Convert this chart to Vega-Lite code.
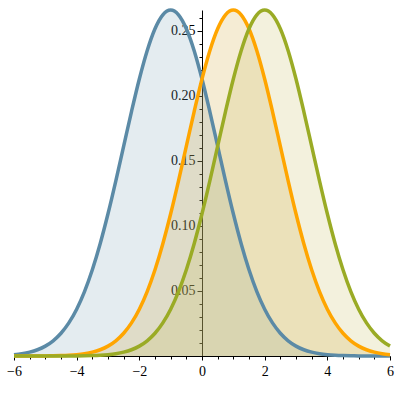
{
  "$schema": "https://vega.github.io/schema/vega-lite/v6.json",
  "width": 376,
  "height": 346,
  "autosize": {"type": "none"},
  "padding": {"left": 14, "top": 10, "right": 10, "bottom": 44},
  "background": "white",
  "config": {
    "view": {"stroke": null},
    "axis": {"grid": false, "labelFont": "Liberation Serif", "labelFontSize": 14, "labelColor": "black", "domainColor": "black", "tickColor": "black", "domainWidth": 1, "tickWidth": 1, "title": null}
  },
  "data": {"values": [
    {"x": -6, "blue": 0.00103, "orange": 0.0, "green": 0.0},
    {"x": -5.75, "blue": 0.00177, "orange": 0.00001, "green": 0.0},
    {"x": -5.5, "blue": 0.00295, "orange": 0.00002, "green": 0.0},
    {"x": -5.25, "blue": 0.0048, "orange": 0.00005, "green": 0.0},
    {"x": -5, "blue": 0.0076, "orange": 0.00009, "green": 0.0},
    {"x": -4.75, "blue": 0.01169, "orange": 0.00017, "green": 0.00001},
    {"x": -4.5, "blue": 0.01748, "orange": 0.00032, "green": 0.00002},
    {"x": -4.25, "blue": 0.02544, "orange": 0.00058, "green": 0.00005},
    {"x": -4, "blue": 0.03599, "orange": 0.00103, "green": 0.00009},
    {"x": -3.75, "blue": 0.04954, "orange": 0.00177, "green": 0.00017},
    {"x": -3.5, "blue": 0.06632, "orange": 0.00295, "green": 0.00032},
    {"x": -3.25, "blue": 0.08635, "orange": 0.0048, "green": 0.00058},
    {"x": -3, "blue": 0.10934, "orange": 0.0076, "green": 0.00103},
    {"x": -2.75, "blue": 0.13467, "orange": 0.01169, "green": 0.00177},
    {"x": -2.5, "blue": 0.16131, "orange": 0.01748, "green": 0.00295},
    {"x": -2.25, "blue": 0.18794, "orange": 0.02544, "green": 0.0048},
    {"x": -2, "blue": 0.21297, "orange": 0.03599, "green": 0.0076},
    {"x": -1.75, "blue": 0.23471, "orange": 0.04954, "green": 0.01169},
    {"x": -1.5, "blue": 0.25159, "orange": 0.06632, "green": 0.01748},
    {"x": -1.25, "blue": 0.26229, "orange": 0.08635, "green": 0.02544},
    {"x": -1, "blue": 0.26596, "orange": 0.10934, "green": 0.03599},
    {"x": -0.75, "blue": 0.26229, "orange": 0.13467, "green": 0.04954},
    {"x": -0.5, "blue": 0.25159, "orange": 0.16131, "green": 0.06632},
    {"x": -0.25, "blue": 0.23471, "orange": 0.18794, "green": 0.08635},
    {"x": 0, "blue": 0.21297, "orange": 0.21297, "green": 0.10934},
    {"x": 0.25, "blue": 0.18794, "orange": 0.23471, "green": 0.13467},
    {"x": 0.5, "blue": 0.16131, "orange": 0.25159, "green": 0.16131},
    {"x": 0.75, "blue": 0.13467, "orange": 0.26229, "green": 0.18794},
    {"x": 1, "blue": 0.10934, "orange": 0.26596, "green": 0.21297},
    {"x": 1.25, "blue": 0.08635, "orange": 0.26229, "green": 0.23471},
    {"x": 1.5, "blue": 0.06632, "orange": 0.25159, "green": 0.25159},
    {"x": 1.75, "blue": 0.04954, "orange": 0.23471, "green": 0.26229},
    {"x": 2, "blue": 0.03599, "orange": 0.21297, "green": 0.26596},
    {"x": 2.25, "blue": 0.02544, "orange": 0.18794, "green": 0.26229},
    {"x": 2.5, "blue": 0.01748, "orange": 0.16131, "green": 0.25159},
    {"x": 2.75, "blue": 0.01169, "orange": 0.13467, "green": 0.23471},
    {"x": 3, "blue": 0.0076, "orange": 0.10934, "green": 0.21297},
    {"x": 3.25, "blue": 0.0048, "orange": 0.08635, "green": 0.18794},
    {"x": 3.5, "blue": 0.00295, "orange": 0.06632, "green": 0.16131},
    {"x": 3.75, "blue": 0.00177, "orange": 0.04954, "green": 0.13467},
    {"x": 4, "blue": 0.00103, "orange": 0.03599, "green": 0.10934},
    {"x": 4.25, "blue": 0.00058, "orange": 0.02544, "green": 0.08635},
    {"x": 4.5, "blue": 0.00032, "orange": 0.01748, "green": 0.06632},
    {"x": 4.75, "blue": 0.00017, "orange": 0.01169, "green": 0.04954},
    {"x": 5, "blue": 0.00009, "orange": 0.0076, "green": 0.03599},
    {"x": 5.25, "blue": 0.00005, "orange": 0.0048, "green": 0.02544},
    {"x": 5.5, "blue": 0.00002, "orange": 0.00295, "green": 0.01748},
    {"x": 5.75, "blue": 0.00001, "orange": 0.00177, "green": 0.01169},
    {"x": 6, "blue": 0.0, "orange": 0.00103, "green": 0.0076}
  ]},
  "transform": [{"fold": ["blue", "orange", "green"], "as": ["s", "y"]}],
  "layer": [
    {
      "mark": {"type": "area", "interpolate": "monotone", "fillOpacity": 0.2},
      "encoding": {
        "x": {"field": "x", "type": "quantitative", "scale": {"domain": [-6, 6], "nice": false},
          "axis": {"orient": "bottom", "values": [-6, -4, -2, 0, 2, 4, 6], "tickSize": 4, "labelPadding": 4, "labelFlush": false}},
        "y": {"field": "y", "type": "quantitative", "stack": null, "scale": {"domain": [0, 0.266], "nice": false, "zero": true},
          "axis": {"orient": "left", "offset": -188, "values": [0.05, 0.1, 0.15, 0.2, 0.25], "format": ".2f", "tickSize": 5, "labelPadding": 2}},
        "fill": {"field": "s", "type": "nominal", "legend": null,
          "scale": {"domain": ["blue", "orange", "green"], "range": ["#78a0b4", "#cda028", "#c3b955"]}},
        "detail": {"field": "s"}
      }
    },
    {
      "mark": {"type": "line", "interpolate": "monotone", "strokeWidth": 3.5},
      "encoding": {
        "x": {"field": "x", "type": "quantitative", "scale": {"domain": [-6, 6], "nice": false},
          "axis": {"orient": "bottom", "values": [-5.5, -5, -4.5, -3.5, -3, -2.5, -1.5, -1, -0.5, 0.5, 1, 1.5, 2.5, 3, 3.5, 4.5, 5, 5.5], "labels": false, "tickSize": 3, "domain": false}},
        "y": {"field": "y", "type": "quantitative", "scale": {"domain": [0, 0.266], "nice": false, "zero": true},
          "axis": {"orient": "left", "offset": -188, "values": [0.01, 0.02, 0.03, 0.04, 0.06, 0.07, 0.08, 0.09, 0.11, 0.12, 0.13, 0.14, 0.16, 0.17, 0.18, 0.19, 0.21, 0.22, 0.23, 0.24, 0.26], "labels": false, "tickSize": 3, "domain": false}},
        "stroke": {"field": "s", "type": "nominal", "legend": null,
          "scale": {"domain": ["blue", "orange", "green"], "range": ["#5b8aa6", "#ffa500", "#9aab25"]}}
      }
    }
  ],
  "resolve": {"axis": {"x": "independent", "y": "independent"}}
}
